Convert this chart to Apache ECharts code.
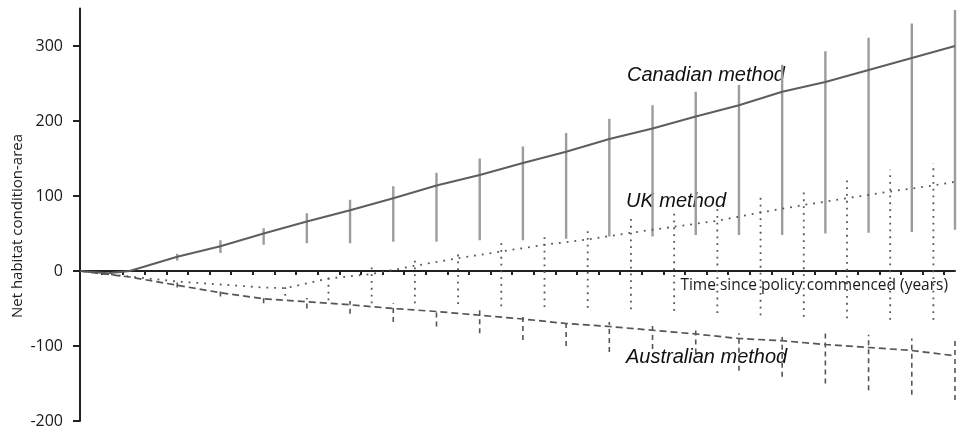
<!DOCTYPE html>
<html>
<head>
<meta charset="utf-8">
<script src="https://cdn.jsdelivr.net/npm/echarts@6/dist/echarts.min.js"></script>
<style>
html,body{margin:0;padding:0;background:#fff;}
#chart{width:958px;height:430px;}
</style>
</head>
<body>
<div id="chart"></div>
<script>
// ---- data (x in years since policy commenced) ----
const yTicks = [-200, -100, 0, 100, 200, 300];
const xTicks = [1,2,3,4,5,6,7,8,9,10,11,12,13,14,15,16,17,18,19,20,21,22,23,24,25,26,27,28,29,30,31,32,33,34,35,36,37,38,39,40];

const canX = [0, 1.3, 2.3, 4.5, 6.5, 8.5, 10.5, 12.5, 14.5, 16.5, 18.5, 20.5, 22.5, 24.5, 26.5, 28.5, 30.5, 32.5, 34.5, 36.5, 38.5, 40.5];
const canY = [0, -3, 0, 19, 33, 50, 66, 81, 97, 114, 128, 144, 159, 176, 190, 206, 221, 239, 252, 268, 284, 300];

const ukX = [0, 2.5, 4.5, 6.5, 8.5, 9.5, 11.5, 13.5, 15.5, 17.5, 19.5, 21.5, 23.5, 25.5, 27.5, 29.5, 31.5, 33.5, 35.5, 37.5, 39.5, 40.5];
const ukY = [0, -8, -14, -18, -22, -23, -10, -4, 7, 17, 26, 35, 42, 51, 59, 67, 78, 88, 97, 106, 114, 119];

const ausX = [0, 2.3, 4.5, 6.5, 8.5, 10.5, 12.5, 14.5, 16.5, 18.5, 20.5, 22.5, 24.5, 26.5, 28.5, 30.5, 32.5, 34.5, 36.5, 38.5, 40.5];
const ausY = [0, -8, -19, -29, -37, -41, -45, -50, -54, -59, -64, -70, -74, -79, -84, -90, -93, -98, -102, -106, -113];

const barX = [4.5, 6.5, 8.5, 10.5, 12.5, 14.5, 16.5, 18.5, 20.5, 22.5, 24.5, 26.5, 28.5, 30.5, 32.5, 34.5, 36.5, 38.5, 40.5];
const canHi = [23, 41, 57, 77, 95, 113, 131, 150, 166, 184, 203, 221, 239, 248, 275, 293, 311, 330, 348];
const canLo = [14, 24, 35, 37, 37, 39, 39, 41, 41, 43, 46, 46, 48, 48, 48, 50, 51, 52, 55];
const ausHi = [-15, -25, -32, -36, -40, -43, -50, -52, -56, -64, -68, -72, -79, -83, -88, -81, -85, -90, -93];
const ausLo = [-22, -34, -43, -50, -57, -68, -74, -83, -92, -100, -108, -104, -110, -133, -141, -150, -159, -165, -172];

const ukBarX = [9.5, 11.5, 13.5, 15.5, 17.5, 19.5, 21.5, 23.5, 25.5, 27.5, 29.5, 31.5, 33.5, 35.5, 37.5, 39.5];
const ukHi = [-15, -7, 8, 18, 28, 37, 47, 53, 73, 80, 88, 99, 106, 126, 135, 144];
const ukLo = [-33, -39, -43, -43, -44, -47, -48, -49, -51, -53, -56, -59, -61, -63, -65, -65];

const labels = ['Canadian method', 'UK method', 'Australian method'];
const xName = 'Time since policy commenced (years)';
const yName = 'Net habitat condition-area';

// ---- helpers ----
const zip = (xs, ys) => xs.map((x, i) => [x, ys[i]]);
const bars = (xs, lo, hi) => xs.map((x, i) => [x, lo[i], hi[i]]);
function barRenderer(stroke, width, dash) {
  return function (params, api) {
    const p1 = api.coord([api.value(0), api.value(1)]);
    const p2 = api.coord([api.value(0), api.value(2)]);
    return {
      type: 'line',
      shape: { x1: p1[0], y1: p1[1], x2: p2[0], y2: p2[1] },
      style: { stroke: stroke, lineWidth: width, lineDash: dash, lineCap: 'butt' }
    };
  };
}

const chart = echarts.init(document.getElementById('chart'), null, { renderer: 'canvas' });
const axisColor = '#222';
chart.setOption({
  animation: false,
  backgroundColor: '#fff',
  grid: { left: 80, right: 3, top: 8.5, bottom: 9, containLabel: false },
  xAxis: {
    type: 'value', min: 0, max: 40.5, interval: 1,
    axisLine: { onZero: true, lineStyle: { color: axisColor, width: 2 } },
    axisTick: { show: true, inside: false, length: 4, customValues: xTicks, lineStyle: { color: axisColor, width: 2 } },
    axisLabel: { show: false },
    splitLine: { show: false }
  },
  yAxis: {
    type: 'value', min: -200, max: 350, interval: 100,
    axisLine: { show: true, onZero: false, lineStyle: { color: axisColor, width: 2 } },
    axisTick: { show: true, length: 7, customValues: yTicks, lineStyle: { color: axisColor, width: 2 } },
    axisLabel: { customValues: yTicks, margin: 17, color: '#1a1a1a', fontSize: 16, fontFamily: 'Open Sans' },
    splitLine: { show: false }
  },
  graphic: [
    { type: 'text', left: 627, top: 65, style: { text: labels[0], font: 'italic 20px "Liberation Sans", Arial, sans-serif', fill: '#111' } },
    { type: 'text', left: 626, top: 191, style: { text: labels[1], font: 'italic 20px "Liberation Sans", Arial, sans-serif', fill: '#111' } },
    { type: 'text', left: 626, top: 347, style: { text: labels[2], font: 'italic 20px "Liberation Sans", Arial, sans-serif', fill: '#111' } },
    { type: 'text', right: 10, top: 278, style: { text: xName, font: '15.5px "Open Sans", sans-serif', fill: '#1a1a1a' } },
    { type: 'text', x: 18, y: 226, rotation: Math.PI / 2,
      style: { text: yName, font: '15px "Open Sans", sans-serif', fill: '#1a1a1a', align: 'center', verticalAlign: 'middle' } }
  ],
  series: [
    { type: 'custom', name: 'canBars', data: bars(barX, canLo, canHi), encode: { x: 0, y: [1, 2] },
      renderItem: barRenderer('#9c9c9c', 2.4, null), z: 2 },
    { type: 'custom', name: 'ukBars', data: bars(ukBarX, ukLo, ukHi), encode: { x: 0, y: [1, 2] },
      renderItem: barRenderer('#555', 1.8, [1.8, 5]), z: 2 },
    { type: 'custom', name: 'ausBars', data: bars(barX, ausLo, ausHi), encode: { x: 0, y: [1, 2] },
      renderItem: barRenderer('#555', 1.6, [5, 4]), z: 2 },
    { type: 'line', name: 'Canadian', data: zip(canX, canY), symbol: 'none', z: 3,
      lineStyle: { color: '#5e5e5e', width: 2, type: 'solid' } },
    { type: 'line', name: 'UK', data: zip(ukX, ukY), symbol: 'none', z: 3,
      lineStyle: { color: '#555', width: 1.8, type: [1.8, 6] } },
    { type: 'line', name: 'Australian', data: zip(ausX, ausY), symbol: 'none', z: 3,
      lineStyle: { color: '#555', width: 1.7, type: [7, 4] } }
  ]
});
</script>
</body>
</html>
